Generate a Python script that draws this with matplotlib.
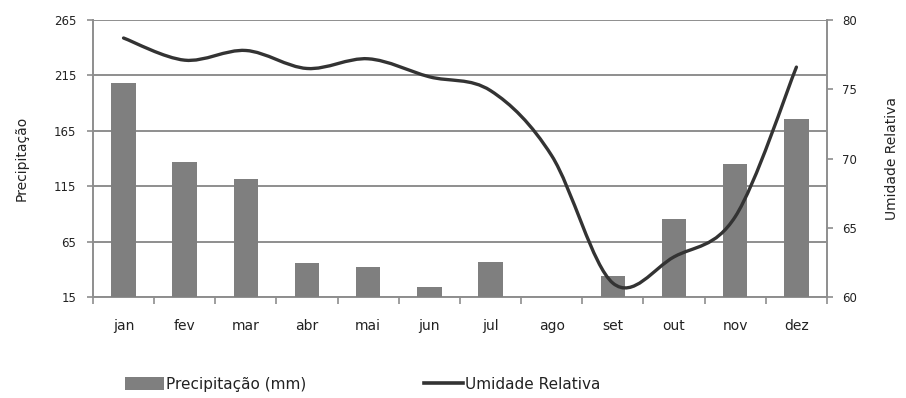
import matplotlib.pyplot as plt
from matplotlib.path import Path
from matplotlib.patches import PathPatch, Patch
from matplotlib.lines import Line2D
import numpy as np

# monthly climate data
meses = ['jan', 'fev', 'mar', 'abr', 'mai', 'jun', 'jul', 'ago', 'set', 'out', 'nov', 'dez']
precipitacao = [208, 137, 121.5, 45.5, 42, 24, 46.5, 0, 34, 85, 135, 175.5]
umidade = [78.7, 77.1, 77.8, 76.5, 77.2, 75.9, 74.9, 70.2, 61.0, 62.9, 65.8, 76.6]

prec_ticks = [15, 65, 115, 165, 215, 265]
umid_ticks = [60, 65, 70, 75, 80]

bar_color = '#7f7f7f'
line_color = '#333333'
grid_color = '#8e8e8e'
text_color = '#222222'

fig = plt.figure(figsize=(9.06, 3.98), dpi=100)
ax = fig.add_axes([0.1026, 0.2538, 0.8102, 0.6959])
x = np.arange(len(meses))

ax.bar(x, precipitacao, width=0.40, color=bar_color, zorder=3)
ax.set_xlim(-0.5, len(meses) - 0.5)
ax.set_ylim(15, 265)
ax.set_yticks(prec_ticks)
ax.yaxis.grid(True, color=grid_color, linewidth=1.4, zorder=0)
ax.set_axisbelow(True)

ax.set_xticks(x)
ax.set_xticklabels(meses)
ax.set_xticks(np.arange(len(meses) + 1) - 0.5, minor=True)
ax.tick_params(axis='x', which='major', length=0, pad=16, labelsize=10, colors=text_color)
ax.tick_params(axis='x', which='minor', length=5, width=1.2, color=grid_color)
ax.tick_params(axis='y', length=4, width=1.2, color=grid_color, labelsize=8.5,
               labelcolor=text_color, pad=8)
ax.spines['top'].set_visible(False)
for s in ['left', 'bottom', 'right']:
    ax.spines[s].set_color(grid_color)
    ax.spines[s].set_linewidth(1.4)
ax.set_ylabel('Precipitação', fontsize=10, color=text_color, labelpad=18)

# relative humidity on the secondary axis, drawn as a smoothed curve
ax2 = ax.twinx()
ax2.set_ylim(60, 80)
ax2.set_yticks(umid_ticks)
ax2.tick_params(axis='y', length=4, width=1.2, color=grid_color, labelsize=8.5,
                labelcolor=text_color, pad=7)
for s in ax2.spines.values():
    s.set_visible(False)
ax2.set_ylabel('Umidade Relativa', fontsize=10, color=text_color, labelpad=20)

pts = np.column_stack([x, umidade])
n = len(pts)
verts = [pts[0]]
codes = [Path.MOVETO]
for i in range(n - 1):
    p0 = pts[max(i - 1, 0)]
    p1 = pts[i]
    p2 = pts[i + 1]
    p3 = pts[min(i + 2, n - 1)]
    c1 = p1 + (p2 - p0) / 6.0
    c2 = p2 - (p3 - p1) / 6.0
    verts += [c1, c2, p2]
    codes += [Path.CURVE4] * 3
ax2.add_patch(PathPatch(Path(verts, codes), facecolor='none', edgecolor=line_color,
                        linewidth=2.4, capstyle='round', zorder=4))

handles = [Patch(facecolor=bar_color, edgecolor='none'),
           Line2D([0], [0], color=line_color, linewidth=2.6)]
fig.legend(handles, ['Precipitação (mm)', 'Umidade Relativa'], loc='center',
           bbox_to_anchor=(0.40, 0.035), ncol=2, frameon=False, fontsize=11,
           handlelength=2.6, handleheight=0.9, handletextpad=0.1, columnspacing=7.7,
           labelcolor=text_color)

fig.savefig('out.png', dpi=100)
